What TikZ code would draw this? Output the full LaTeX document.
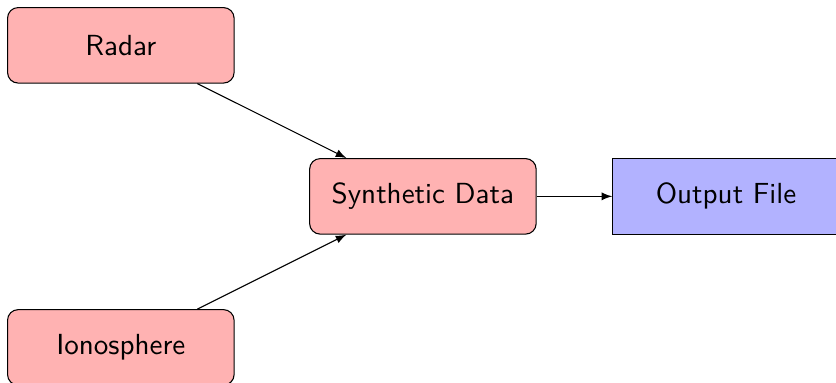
\documentclass[tikz,border=0pt,11pt]{standalone}
\usepackage{tikz}
\usetikzlibrary{arrows, positioning}
\renewcommand{\familydefault}{\sfdefault}

\begin{document}
\begin{tikzpicture}[auto]
\tikzset{
  srcbox/.style={rectangle, draw, fill=red!30, rounded corners, minimum width=3cm, minimum height=1cm},
  outbox/.style={rectangle, draw, fill=blue!30, minimum width=3cm, minimum height=1cm}
}
\useasboundingbox (-1.6,-2.47) rectangle (9.47,2.6);

\node[srcbox] (radar) at (0,2) {Radar};
\node[srcbox] (synth) at (4,0) {Synthetic Data};
\node[outbox, right=1cm of synth] (outfile) {Output File};
\node[srcbox] (iono) at (0,-2) {Ionosphere};

\draw[-latex] (radar) -- (synth);
\draw[-latex] (iono) -- (synth);
\draw[-latex] (synth) -- (outfile);
\end{tikzpicture}
\end{document}
